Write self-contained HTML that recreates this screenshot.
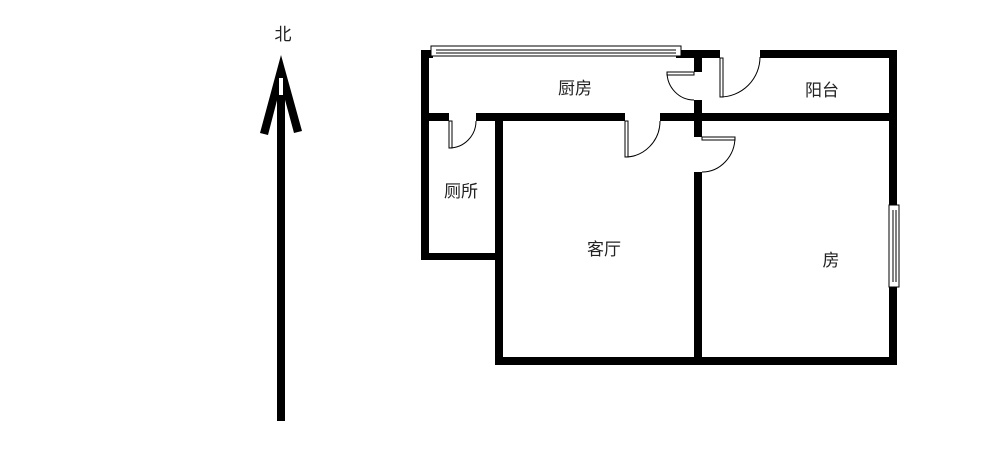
<!DOCTYPE html>
<html><head><meta charset="utf-8"><style>
html,body{margin:0;padding:0;background:#fff;}
svg{display:block;}
text{font-family:"Liberation Sans","Noto Sans CJK SC",sans-serif;font-size:17px;fill:#222;}
</style></head><body>
<svg width="1000" height="457" viewBox="0 0 1000 457" xmlns="http://www.w3.org/2000/svg">
<rect width="1000" height="457" fill="#fff"/>
<!-- north arrow -->
<text x="283" y="40" text-anchor="middle">北</text>
<rect x="277" y="95" width="8" height="326" fill="#000"/>
<polygon points="281,55 260,133 268,135 281,85 294,133 302,131" fill="#000"/>
<polygon points="281,60 277,95 285,95" fill="#000"/>
<rect x="279" y="78" width="4" height="17" fill="#fff"/>
<g fill="#000">
<!-- outer walls -->
<rect x="421" y="50" width="8" height="210"/>
<rect x="421" y="50" width="12" height="8"/>
<rect x="676" y="50" width="44" height="8"/>
<rect x="760" y="50" width="137" height="8"/>
<rect x="889" y="50" width="8" height="158"/>
<rect x="889" y="285" width="8" height="80"/>
<rect x="495" y="357" width="402" height="8"/>
<rect x="421" y="253" width="82" height="7"/>
<rect x="495" y="113" width="8" height="252"/>
<!-- kitchen bottom wall -->
<rect x="421" y="113" width="28" height="8"/>
<rect x="476" y="113" width="149" height="8"/>
<rect x="660" y="113" width="237" height="8"/>
<!-- middle vertical wall -->
<rect x="694" y="50" width="8" height="22"/>
<rect x="694" y="100" width="8" height="37"/>
<rect x="694" y="172" width="8" height="193"/>
</g>
<!-- windows -->
<rect x="431" y="46" width="250" height="10" fill="#fff" stroke="#000" stroke-width="1"/>
<line x1="436" y1="50" x2="676" y2="50" stroke="#000" stroke-width="1"/>
<line x1="436" y1="53" x2="676" y2="53" stroke="#000" stroke-width="1"/>
<rect x="889" y="205" width="10" height="82" fill="#fff" stroke="#000" stroke-width="1"/>
<line x1="893" y1="210" x2="893" y2="282" stroke="#000"/>
<line x1="896" y1="210" x2="896" y2="282" stroke="#000"/>
<!-- doors -->
<g fill="none" stroke="#000" stroke-width="1">
<rect x="449" y="121" width="3" height="27"/>
<path d="M449,148 A27,27 0 0 0 476,121"/>
<rect x="625" y="121" width="3" height="36"/>
<path d="M625,157 A35,36 0 0 0 660,121"/>
<rect x="667" y="72" width="27" height="3"/>
<path d="M667,72 A27,28 0 0 0 694,100"/>
<rect x="720" y="58" width="3" height="39"/>
<path d="M720,97 A40,40 0 0 0 760,57"/>
<rect x="702" y="137" width="33" height="3"/>
<path d="M735,137 A33,35 0 0 1 702,172"/>
</g>
<text x="575" y="94" text-anchor="middle">厨房</text>
<text x="822" y="96" text-anchor="middle">阳台</text>
<text x="461" y="197" text-anchor="middle">厕所</text>
<text x="604" y="255" text-anchor="middle">客厅</text>
<text x="831" y="266" text-anchor="middle">房</text>
</svg>
</body></html>
